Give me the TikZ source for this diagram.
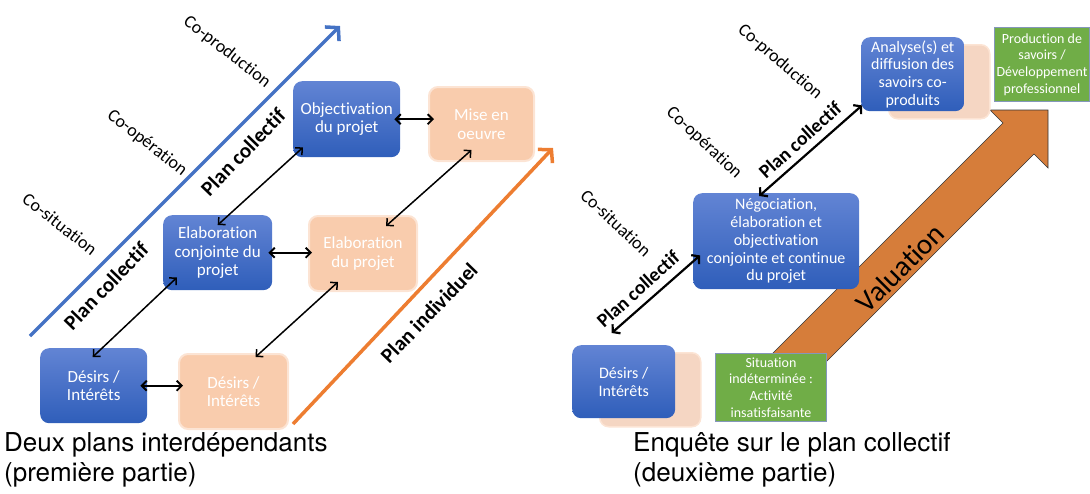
\documentclass[tikz,border=0pt]{standalone}
\usepackage{fontspec}
\setmainfont{Carlito}[Ligatures=NoCommon]
\newfontfamily\capfont{TeX Gyre Heros}
\usetikzlibrary{arrows.meta,calc}
\definecolor{bluetop}{RGB}{98,132,212}
\definecolor{bluebot}{RGB}{47,94,186}
\definecolor{peach}{RGB}{249,204,173}
\definecolor{peachedge}{RGB}{252,228,212}
\definecolor{peachpale}{RGB}{245,214,195}
\definecolor{grn}{RGB}{112,173,71}
\definecolor{grnedge}{RGB}{132,151,186}
\definecolor{lineblue}{RGB}{68,114,196}
\definecolor{lineorange}{RGB}{237,125,49}
\definecolor{valorange}{RGB}{214,125,58}
\tikzset{
 box/.style={rounded corners=9pt, align=center, text=white, inner sep=2pt, anchor=north west, font=\fontsize{17}{18.5}\selectfont},
 rbox/.style={font=\fontsize{16}{17.8}\selectfont},
 bluebox/.style={box, top color=bluetop, bottom color=bluebot, draw=none},
 peachbox/.style={box, fill=peach, draw=peachedge, line width=2pt},
 shadowbox/.style={rounded corners=9pt, fill=peachpale, draw=peachedge, line width=1.5pt, anchor=north west},
 greenbox/.style={align=center, text=white, fill=grn, draw=grnedge, line width=1pt, anchor=north west, inner sep=1pt, font=\fontsize{14}{16.8}\selectfont},
 dar/.style={{Straight Barb[length=5pt,width=10pt]}-{Straight Barb[length=5pt,width=10pt]}, line width=1.5pt},
 hdar/.style={dar, line width=1.9pt},
 darthick/.style={{Straight Barb[length=5pt,width=12pt]}-{Straight Barb[length=5pt,width=12pt]}, line width=2.2pt},
 colab/.style={font=\fontsize{18}{20}\selectfont},
 planlab/.style={font=\bfseries\fontsize{21}{24}\selectfont},
 captext/.style={font=\capfont\fontsize{26}{30.5}\selectfont, align=left, anchor=north west, inner sep=0pt},
 bigline/.style={line width=3.5pt, -{Straight Barb[length=9pt,width=20pt]}},
}
\begin{document}
\begin{tikzpicture}[x=1pt,y=-1pt]
\useasboundingbox (0,0) rectangle (1090,493);
% ---------- left part ----------
\coordinate (bs) at (30,336);
\coordinate (be) at (340,26);
\draw[bigline, lineblue] (bs) -- (be);
\coordinate (os) at (293,424);
\coordinate (oe) at (553,148);
\draw[bigline, lineorange] (os) -- (oe);

\node[bluebox, minimum width=107pt, minimum height=76pt] (obj) at (293,81) {Objectivation\\du projet};
\node[peachbox, minimum width=105pt, minimum height=74pt] (mise) at (428,86) {Mise en\\oeuvre};
\node[bluebox, minimum width=109pt, minimum height=75pt] (econj) at (163,215) {Elaboration\\conjointe du\\projet};
\node[peachbox, minimum width=108pt, minimum height=75pt] (edp) at (308,215) {Elaboration\\du projet};
\node[bluebox, minimum width=107pt, minimum height=75pt] (des) at (40,348) {Désirs /\\Intérêts};
\node[peachbox, minimum width=109pt, minimum height=75pt] (desP) at (178,353) {Désirs /\\Intérêts};

\draw[hdar] ([xshift=-6pt]obj.east) -- ([xshift=6pt]obj.east -| mise.west);
\draw[dar] ($(obj.south west)+(10,-10)$) -- ($(econj.north)+(0,10)$);
\draw[dar] ($(mise.south)+(-10,-12)$) -- ($(edp.north)+(23,11)$);
\draw[hdar] ([xshift=-4pt]econj.east) -- ([xshift=4pt]econj.east -| edp.west);
\draw[dar] ($(econj.south west)+(14,-13)$) -- ($(des.north)+(-1,9)$);
\draw[dar] ($(edp.south west)+(30,-10)$) -- ($(desP.north)+(22,4)$);
\draw[hdar] ([xshift=-7pt]des.east) -- ([xshift=5pt]des.east -| desP.west);

\node[colab, rotate=-38] (cop1) at (227,52) {Co-production};
\node[colab, rotate=-38] (coo1) at (147,143) {Co-opération};
\node[colab, rotate=-38] (cos1) at (60,224) {Co-situation};
\node[planlab, rotate=46] (pc1) at (243,152) {Plan collectif};
\node[planlab, rotate=46] (pc2) at (106,286) {Plan collectif};
\node[planlab, rotate=46] (pi) at (429,313) {Plan individuel};

\node[captext] (cap1) at (4,432) {Deux plans interdépendants\\(première partie)};

% ---------- right part ----------
\coordinate (v1) at (763,363);
\coordinate (v2) at (1003,123);
\coordinate (v3) at (990,110);
\coordinate (v4) at (1048,110);
\coordinate (v5) at (1048,168);
\coordinate (v6) at (1034,154);
\coordinate (v7) at (794,394);
\draw[fill=valorange, draw=black!80, line width=0.6pt] (v1) -- (v2) -- (v3) -- (v4) -- (v5) -- (v6) -- (v7) -- cycle;
\node[font=\fontsize{29}{32}\selectfont, rotate=45] (val) at (900,268) {Valuation};

\node[shadowbox, minimum width=101pt, minimum height=74pt] (anash) at (888,44) {};
\node[bluebox, rbox, minimum width=103pt, minimum height=74pt] (ana) at (861,37) {Analyse(s) et\\diffusion des\\savoirs co-\\produits};
\node[greenbox, minimum width=95pt, minimum height=74pt] (prod) at (994,27) {Production de\\savoirs /\\Développement\\professionnel};
\node[bluebox, rbox, minimum width=166pt, minimum height=96pt] (neg) at (693,193) {Négociation,\\élaboration et\\objectivation\\conjointe et continue\\du projet};
\node[shadowbox, minimum width=101pt, minimum height=74pt] (desRsh) at (599,352) {};
\node[bluebox, rbox, minimum width=103pt, minimum height=73pt] (desR) at (572,345) {Désirs /\\Intérêts};
\node[greenbox, minimum width=111pt, minimum height=68pt] (sit) at (715,353) {Situation\\indéterminée :\\Activité\\insatisfaisante};

\draw[darthick] ($(neg.north)+(-17,3)$) -- ($(ana.south west)+(1,-6)$);
\draw[darthick] ($(desR.north)+(-12,-12)$) -- ($(neg.south west)+(7,-34)$);

\node[colab, rotate=-41] (cop2) at (780,62) {Co-production};
\node[colab, rotate=-43] (coo2) at (704,143) {Co-opération};
\node[colab, rotate=-43] (cos2) at (616,223) {Co-situation};
\node[planlab, rotate=42, font=\bfseries\fontsize{19.5}{22}\selectfont] (pc3) at (800,140) {Plan collectif};
\node[planlab, rotate=42, font=\bfseries\fontsize{19.5}{22}\selectfont] (pc4) at (638,289) {Plan collectif};

\node[captext] (cap2) at (633,432) {Enquête sur le plan collectif\\(deuxième partie)};
\end{tikzpicture}
\end{document}
